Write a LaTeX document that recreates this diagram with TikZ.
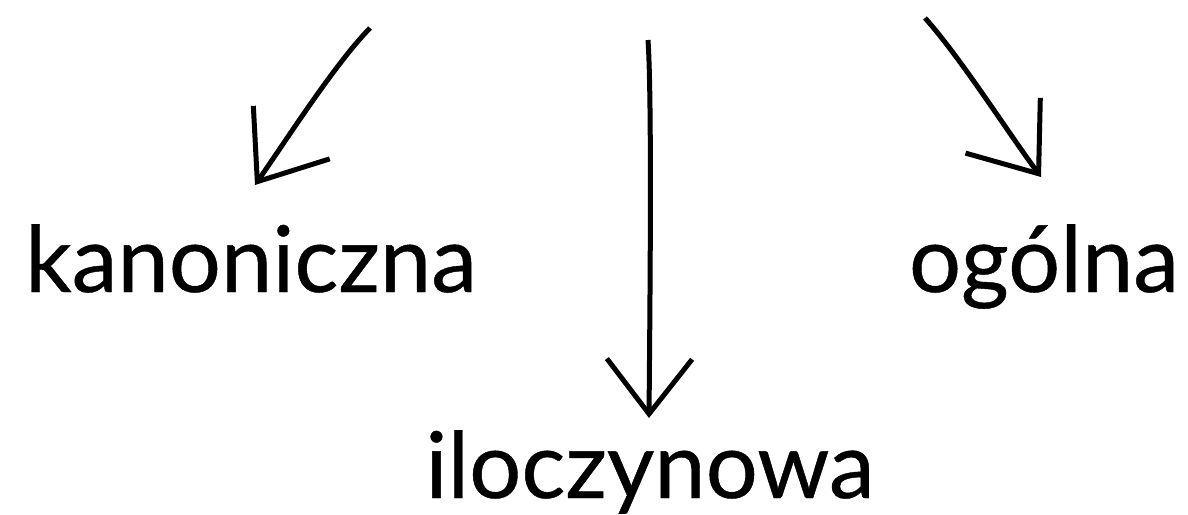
\documentclass[tikz,border=0pt]{standalone}
\usepackage{fontspec}
\setmainfont{Lato}
\newfontfamily\lblfont{Lato}[BoldFont=Lato,BoldFeatures={FakeBold=0.45}]
\usetikzlibrary{arrows.meta}
\tikzset{
  lbl/.style={inner sep=0pt, anchor=base, font=\lblfont\bfseries\fontsize{92}{110}\selectfont},
  arr/.style={line width=5pt, -{Straight Barb[length=#1, width=1.55*#1, sharp]}},
}
\begin{document}
\begin{tikzpicture}[x=1pt,y=-1pt]
\useasboundingbox (0,0) rectangle (1188,514);
% labels
\node[lbl] (kan) at (251,292) {kanoniczna};
\node[lbl] (ogo) at (1044,292) {ogólna};
\node[lbl] (ilo) at (650,498) {iloczynowa};
% arrow ends
\coordinate (s1) at (370,28);
\coordinate (t1) at (255,185);
\coordinate (s2) at (648,40);
\coordinate (t2) at (649,418);
\coordinate (s3) at (925,18);
\coordinate (t3) at (1041,177);
% arrows
\draw[arr=60pt] (s1) .. controls (335,64) and (289,136) .. (t1);
\draw[arr=55pt] (s2) .. controls (652,100) and (650,300) .. (t2);
\draw[arr=60pt] (s3) .. controls (960,57) and (1007,131) .. (t3);
\end{tikzpicture}
\end{document}
